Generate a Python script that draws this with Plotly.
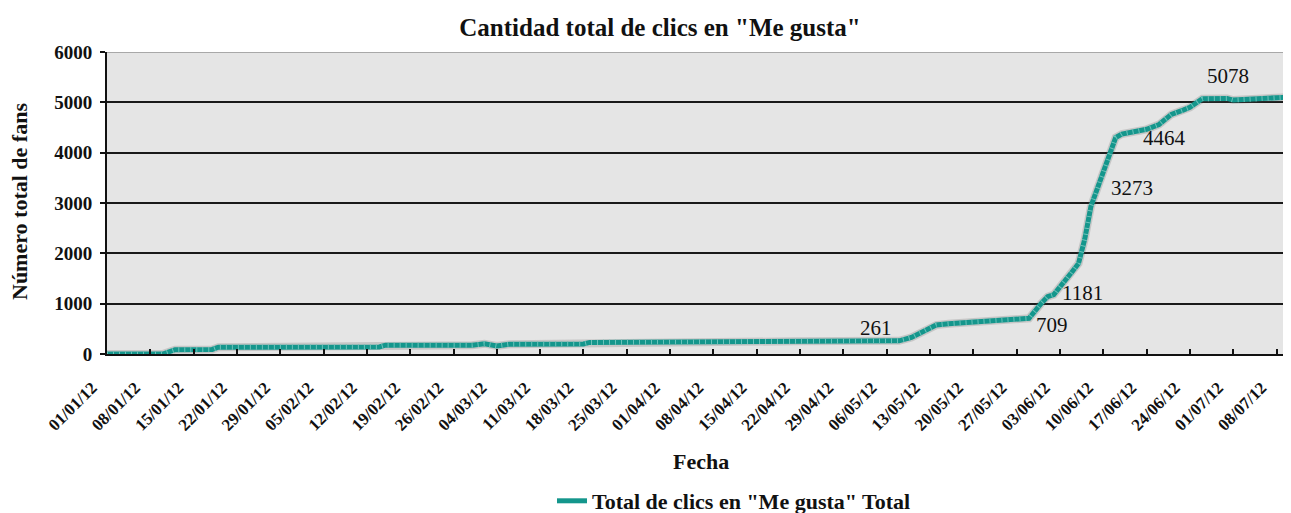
import plotly.graph_objects as go

# ---- data ----
dates = [
    "2012-01-01", "2012-01-10", "2012-01-12", "2012-01-18", "2012-01-19",
    "2012-02-14", "2012-02-15", "2012-02-29", "2012-03-02", "2012-03-04",
    "2012-03-06", "2012-03-18", "2012-03-19", "2012-04-20", "2012-04-21",
    "2012-05-06", "2012-05-08", "2012-05-10", "2012-05-12", "2012-05-14",
    "2012-05-16", "2012-05-19", "2012-05-24", "2012-05-27", "2012-05-29",
    "2012-05-31", "2012-06-01", "2012-06-02", "2012-06-04", "2012-06-05",
    "2012-06-06", "2012-06-07", "2012-06-08", "2012-06-09", "2012-06-10",
    "2012-06-11", "2012-06-12", "2012-06-13", "2012-06-17", "2012-06-19",
    "2012-06-21", "2012-06-23", "2012-06-24", "2012-06-26", "2012-06-27",
    "2012-06-30", "2012-07-01", "2012-07-07", "2012-07-08", "2012-07-11",
]
fans = [
    0, 0, 85, 90, 135,
    140, 175, 175, 205, 160,
    195, 200, 230, 235, 252,
    261, 262, 330, 460, 575,
    600, 630, 660, 690, 709,
    1010, 1140, 1181, 1470, 1640,
    1800, 2280, 2930, 3273, 3600,
    4000, 4300, 4370, 4464, 4560,
    4760, 4850, 4900, 5070, 5078,
    5078, 5045, 5080, 5110, 5110,
]

label_dates = ["2012-05-06", "2012-05-29", "2012-06-02", "2012-06-09", "2012-06-17", "2012-06-27"]
label_values = [261, 709, 1181, 3273, 4464, 5078]

title_text = 'Cantidad total de clics en "Me gusta"'
series_name = 'Total de clics en "Me gusta" Total'
x_title = "Fecha"
y_title = "Número total de fans"

# ---- styles ----
SERIF = "Liberation Serif, Times New Roman, serif"
TEAL = "#14968c"
TEAL_LIGHT = "#6cc2ba"
label_offsets = [(-11, 13), (23, -7), (29, 2), (35, 1), (18, -9), (20, 22)]

# the page body has an 8px margin: lay the figure out in page pixels minus 8
OFF = 8
W, H = 1291 - OFF, 513 - OFF
L = 107 - OFF
T = 52 - OFF
R = 0
B = H - (354 - OFF)
pw, ph = W - L - R, H - T - B


def px_x(x):  # page pixel -> paper x
    return (x - OFF - L) / pw


def px_y(y):  # page pixel -> paper y
    return (H - B - (y - OFF)) / ph


fig = go.Figure()
fig.add_trace(go.Scatter(
    x=dates, y=fans, mode="lines", showlegend=False, hoverinfo="skip",
    line=dict(color="rgba(90,90,90,0.22)", width=8),
))
fig.add_trace(go.Scatter(
    x=dates, y=fans, mode="lines", name=series_name,
    line=dict(color=TEAL, width=5),
))
fig.add_trace(go.Scatter(
    x=dates, y=fans, mode="lines", showlegend=False, hoverinfo="skip",
    line=dict(color=TEAL_LIGHT, width=5, dash="1px,5px"),
))

for d, v, (dx, dy) in zip(label_dates, label_values, label_offsets):
    fig.add_annotation(
        x=d, y=v, text=str(v), showarrow=False, xshift=dx, yshift=dy,
        font=dict(family=SERIF, size=21, color="#111"),
    )

fig.add_annotation(
    x=px_x(701), y=px_y(461), xref="paper", yref="paper",
    xanchor="center", yanchor="middle",
    text=f"<b>{x_title}</b>", showarrow=False,
    font=dict(family=SERIF, size=22, color="#111"),
)
fig.add_annotation(
    x=px_x(19), y=px_y(202), xref="paper", yref="paper",
    xanchor="center", yanchor="middle",
    text=f"<b>{y_title}</b>", showarrow=False, textangle=-90,
    font=dict(family=SERIF, size=22, color="#111"),
)

fig.add_shape(type="line", xref="paper", yref="y", x0=0, x1=1, y0=6000, y1=6000,
              line=dict(color="#a8a8a8", width=2))

fig.update_layout(
    width=W, height=H,
    margin=dict(l=L, r=R, t=T, b=B, pad=0, autoexpand=False),
    paper_bgcolor="white",
    plot_bgcolor="#e5e5e5",
    title=dict(text=f"<b>{title_text}</b>", x=(660 - OFF) / W, xanchor="center",
               y=1 - (27 - OFF) / H, yanchor="middle", yref="container",
               font=dict(family=SERIF, size=25, color="#111")),
    legend=dict(orientation="h", x=px_x(734), xanchor="center",
                y=px_y(501), yanchor="middle",
                font=dict(family=SERIF, size=22, color="#111", weight="bold"),
                bgcolor="rgba(0,0,0,0)", itemwidth=30),
    showlegend=True,
    font=dict(family=SERIF, color="#111"),
)
fig.update_xaxes(
    type="date", range=["2012-01-01", "2012-07-10 08:00"],
    tick0="2012-01-01", dtick=7 * 24 * 3600 * 1000, tickformat="%d/%m/%y",
    tickangle=-45, ticks="inside", ticklen=5, tickwidth=1.5, tickcolor="#111",
    showline=True, linecolor="#111", linewidth=2, showgrid=False, zeroline=False,
    tickfont=dict(family=SERIF, size=17, color="#111", weight="bold"),
    ticklabelstandoff=15, ticklabelshift=-15,
)
fig.update_yaxes(
    range=[0, 6000], dtick=1000, tick0=0,
    ticks="outside", ticklen=5, tickwidth=1.5, tickcolor="#111",
    showline=True, linecolor="#111", linewidth=2,
    showgrid=True, gridcolor="#1a1a1a", gridwidth=1.5, zeroline=False,
    tickfont=dict(family=SERIF, size=19, color="#111", weight="bold"),
    ticklabelstandoff=4,
)

fig.write_html("out.html")
